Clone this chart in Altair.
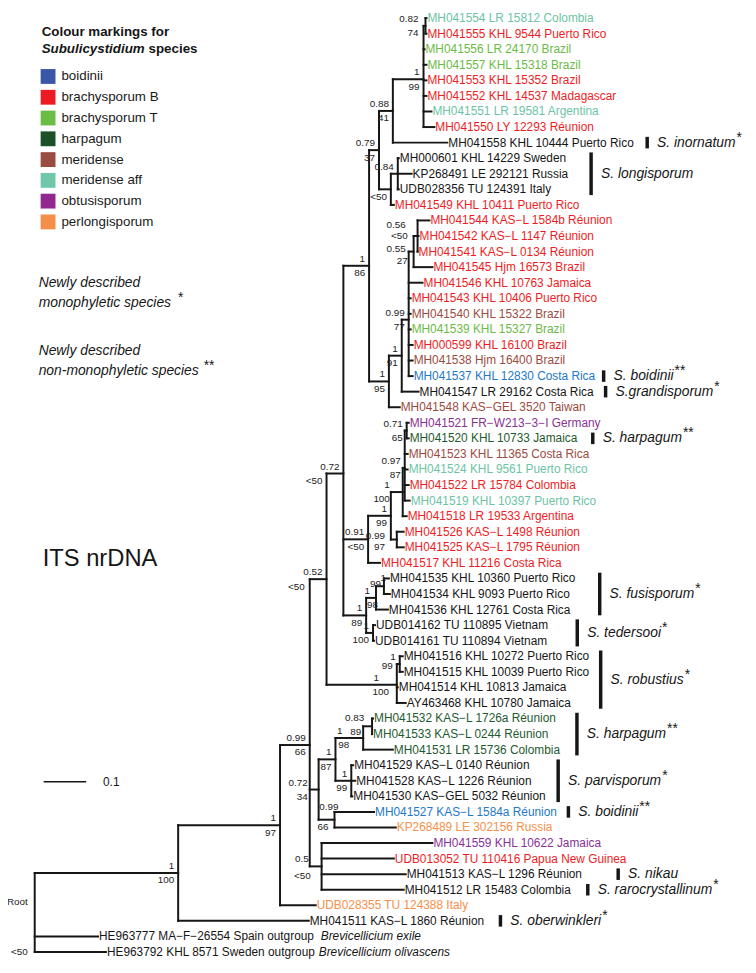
import altair as alt
import pandas as pd

# ======================= DATA =======================
tip_labels = [
    "MH041554 LR 15812 Colombia", "MH041555 KHL 9544 Puerto Rico", "MH041556 LR 24170 Brazil",
    "MH041557 KHL 15318 Brazil", "MH041553 KHL 15352 Brazil", "MH041552 KHL 14537 Madagascar",
    "MH041551 LR 19581 Argentina", "MH041550 LY 12293 Réunion", "MH041558 KHL 10444 Puerto Rico",
    "MH000601 KHL 14229 Sweden", "KP268491 LE 292121 Russia", "UDB028356 TU 124391 Italy",
    "MH041549 KHL 10411 Puerto Rico", "MH041544 KAS−L 1584b Réunion", "MH041542 KAS−L 1147 Réunion",
    "MH041541 KAS−L 0134 Réunion", "MH041545 Hjm 16573 Brazil", "MH041546 KHL 10763 Jamaica",
    "MH041543 KHL 10406 Puerto Rico", "MH041540 KHL 15322 Brazil", "MH041539 KHL 15327 Brazil",
    "MH000599 KHL 16100 Brazil", "MH041538 Hjm 16400 Brazil", "MH041537 KHL 12830 Costa Rica",
    "MH041547 LR 29162 Costa Rica", "MH041548 KAS−GEL 3520 Taiwan", "MH041521 FR−W213−3−I Germany",
    "MH041520 KHL 10733 Jamaica", "MH041523 KHL 11365 Costa Rica", "MH041524 KHL 9561 Puerto Rico",
    "MH041522 LR 15784 Colombia", "MH041519 KHL 10397 Puerto Rico", "MH041518 LR 19533 Argentina",
    "MH041526 KAS−L 1498 Réunion", "MH041525 KAS−L 1795 Réunion", "MH041517 KHL 11216 Costa Rica",
    "MH041535 KHL 10360 Puerto Rico", "MH041534 KHL 9093 Puerto Rico", "MH041536 KHL 12761 Costa Rica",
    "UDB014162 TU 110895 Vietnam", "UDB014161 TU 110894 Vietnam", "MH041516 KHL 10272 Puerto Rico",
    "MH041515 KHL 10039 Puerto Rico", "MH041514 KHL 10813 Jamaica", "AY463468 KHL 10780 Jamaica",
    "MH041532 KAS−L 1726a Réunion", "MH041533 KAS−L 0244 Réunion", "MH041531 LR 15736 Colombia",
    "MH041529 KAS−L 0140 Réunion", "MH041528 KAS−L 1226 Réunion", "MH041530 KAS−GEL 5032 Réunion",
    "MH041527 KAS−L 1584a Réunion", "KP268489 LE 302156 Russia", "MH041559 KHL 10622 Jamaica",
    "UDB013052 TU 110416 Papua New Guinea", "MH041513 KAS−L 1296 Réunion", "MH041512 LR 15483 Colombia",
    "UDB028355 TU 124388 Italy", "MH041511 KAS−L 1860 Réunion",
    "HE963777 MA−F−26554 Spain  outgroup", "HE963792 KHL 8571 Sweden outgroup",
]
outgroup_tip_index = [59, 60]
outgroup_species = ["Brevicellicium exile", "Brevicellicium olivascens"]

tip_groups = [
    "meridense aff", "brachysporum B", "brachysporum T", "brachysporum T", "brachysporum B",
    "brachysporum B", "meridense aff", "brachysporum B", "none", "none",
    "none", "none", "brachysporum B", "brachysporum B", "brachysporum B",
    "brachysporum B", "brachysporum B", "brachysporum B", "brachysporum B", "meridense",
    "brachysporum T", "brachysporum B", "meridense", "boidinii", "none",
    "meridense", "obtusisporum", "harpagum", "meridense", "meridense aff",
    "brachysporum B", "meridense aff", "brachysporum B", "brachysporum B", "brachysporum B",
    "brachysporum B", "none", "none", "none", "none",
    "none", "none", "none", "none", "none",
    "harpagum", "harpagum", "harpagum", "none", "none",
    "none", "boidinii", "perlongisporum", "obtusisporum", "brachysporum B",
    "none", "none", "perlongisporum", "none", "none",
    "none",
]

# distance from root (substitutions per site)
tip_depth = [
    0.9209, 0.9209, 0.9163, 0.9209, 0.9209, 0.9209, 0.9326, 0.9395, 0.9698, 0.8558,
    0.8860, 0.8558, 0.8442, 0.9279, 0.9023, 0.9000, 0.9349, 0.9116, 0.8837, 0.8837,
    0.8837, 0.8884, 0.8884, 0.8884, 0.9023, 0.8581, 0.8791, 0.8791, 0.8767, 0.8767,
    0.8791, 0.8814, 0.8744, 0.8674, 0.8674, 0.8116, 0.8326, 0.8349, 0.8302, 0.8000,
    0.7977, 0.8651, 0.8651, 0.8535, 0.8721, 0.7953, 0.7930, 0.8419, 0.7488, 0.7535,
    0.7465, 0.7977, 0.8488, 0.9349, 0.8442, 0.8721, 0.8674, 0.6605, 0.6442, 0.1488,
    0.1674,
]

tip_parent = [
    "n19", "n19", "n18", "n18", "n18", "n18", "n18", "n18", "n17", "n21",
    "n21", "n21", "n20", "n26", "n26", "n26", "n25", "n24", "n24", "n24",
    "n24", "n24", "n24", "n24", "n23", "n22", "n32", "n32", "n31", "n31",
    "n31", "n31", "n29", "n30", "n30", "n27", "n36", "n36", "n34", "n35",
    "n35", "n14", "n14", "n13", "n13", "n10", "n10", "n9", "n11", "n11",
    "n11", "n8", "n8", "n6", "n6", "n6", "n6", "n2", "n1", "root",
    "root",
]

node_ids = ["root", "n1", "n2", "n3", "n4", "n5", "n6", "n7", "n8", "n9",
            "n10", "n11", "n12", "n13", "n14", "n15", "n16", "n17", "n18", "n19",
            "n20", "n21", "n22", "n23", "n24", "n25", "n26", "n27", "n28", "n29",
            "n30", "n31", "n32", "n33", "n34", "n35", "n36"]
node_parent = ["", "root", "n1", "n2", "n3", "n3", "n3", "n5", "n5", "n7",
               "n9", "n7", "n4", "n4", "n13", "n12", "n15", "n16", "n17", "n18",
               "n16", "n20", "n15", "n22", "n23", "n24", "n25", "n12", "n27", "n28",
               "n28", "n29", "n31", "n12", "n33", "n33", "n34"]
node_depth = [0.0, 0.3372, 0.5767, 0.6465, 0.6860, 0.6674, 0.6744, 0.7070, 0.7047, 0.7721,
              0.7930, 0.7442, 0.7256, 0.8512, 0.8581, 0.7860, 0.8093, 0.8419, 0.9140, 0.9186,
              0.8372, 0.8535, 0.8326, 0.8628, 0.8791, 0.8907, 0.9000, 0.7837, 0.8372, 0.8651,
              0.8512, 0.8698, 0.8744, 0.7791, 0.8023, 0.7953, 0.8209]
node_pp = ["", "1", "1", "0.99", "0.52", "0.72", "0.5", "1", "0.99", "1",
           "0.83", "1", "0.72", "1", "1", "1", "0.79", "0.88", "1", "0.82",
           "", "0.84", "1", "1", "0.99", "0.55", "0.56", "0.91", "1", "1",
           "0.99", "0.97", "0.71", "1", "1", "1", "1"]
node_bs = ["<50", "100", "97", "66", "<50", "34", "<50", "87", "66", "98",
           "89", "99", "<50", "100", "99", "86", "37", "41", "99", "74",
           "<50", "", "95", "91", "77", "27", "<50", "<50", "99", "100",
           "97", "87", "65", "89", "98", "100", "99"]

legend_groups = ["boidinii", "brachysporum B", "brachysporum T", "harpagum",
                 "meridense", "meridense aff", "obtusisporum", "perlongisporum"]

clade_names = ["S. inornatum", "S. longisporum", "S. boidinii", "S.grandisporum", "S. harpagum",
               "S. fusisporum", "S. tedersooi", "S. robustius", "S. harpagum", "S. parvisporum",
               "S. boidinii", "S. nikau", "S. rarocrystallinum", "S. oberwinkleri"]
clade_marks = ["*", "", "**", "*", "**", "*", "*", "*", "**", "*", "**", "", "*", "*"]
clade_first = [8, 9, 23, 24, 27, 36, 39, 41, 45, 48, 51, 55, 56, 58]
clade_last = [8, 11, 23, 24, 27, 38, 40, 44, 47, 50, 51, 55, 56, 58]

scale_bar_value = 0.1
scale_bar_text = "0.1"
figure_label = "ITS nrDNA"

# ======================= STYLE / LAYOUT =======================
FONT = "Liberation Sans"
INK = "#161616"
text_colors = {
    "boidinii": "#2478c9", "brachysporum B": "#ee1d25", "brachysporum T": "#6bbb45",
    "harpagum": "#1e5a2f", "meridense": "#9c4b41", "meridense aff": "#6cc4a4",
    "obtusisporum": "#8a3196", "perlongisporum": "#f68f4a", "none": INK,
}
legend_colors = ["#3a57a7", "#ed1c24", "#6cbd45", "#1c5028", "#9a4c42", "#70c7a7", "#92278f", "#f68e4b"]

W, H = 748, 965
PXU = 430.0      # pixels per substitution unit
ROOT_PX = 27.0
ROW_PX = 15.733
TOP_PX = 5.0
X_SCALE = alt.Scale(domain=[-ROOT_PX / PXU, (W - ROOT_PX) / PXU], nice=False, zero=False)
Y_SCALE = alt.Scale(domain=[-TOP_PX / ROW_PX, (H - TOP_PX) / ROW_PX], nice=False, zero=False, reverse=True)

# support-label placement tweaks (px): node -> (dx_top, dy_top, dx_bottom, dy_bottom)
LABEL_NUDGE = {
    "n36": (6, -1, 1, -9.5), "n34": (-2, 0, 6, 0), "n14": (0, 0, -3, -5.5), "n13": (-14, 0, -4, 0),
    "n26": (-8, -4, -6, -7), "n25": (-4, 4, -2, 2.5), "n10": (-4, -1, -7, -1.5), "n9": (-17, 0, -10, 0),
    "n5": (-7, 0, -7, 0), "n6": (-9, 0, -7, 2), "n8": (8, -6, -2, 0), "n4": (0, 0, -18, 0),
    "n12": (0, 0, -17, 0), "n29": (-9, 0, -9, 0), "n30": (-8, 3, -8, 0), "n19": (-3, 0, -3, 0),
}
# gap (px) between the longest tip label of a clade and its bar
CLADE_GAP = [14, 24, 9, 13, 16, 25, 29, 12, 18, 13, 12, 37, 18, 16]

# Arial / Liberation Sans advance widths (per 1000 em)
_AW = {' ': 278, '.': 278, '−': 584, '-': 333, '*': 389, 'é': 556,
       'A': 667, 'B': 667, 'C': 722, 'D': 722, 'E': 667, 'F': 611, 'G': 778, 'H': 722, 'I': 278,
       'J': 500, 'K': 667, 'L': 556, 'M': 833, 'N': 722, 'O': 778, 'P': 667, 'Q': 778, 'R': 722,
       'S': 667, 'T': 611, 'U': 722, 'V': 667, 'W': 944, 'X': 667, 'Y': 667, 'Z': 611,
       'a': 556, 'b': 556, 'c': 500, 'd': 556, 'e': 556, 'f': 278, 'g': 556, 'h': 556, 'i': 222,
       'j': 222, 'k': 500, 'l': 222, 'm': 833, 'n': 556, 'o': 556, 'p': 556, 'q': 556, 'r': 333,
       's': 500, 't': 278, 'u': 556, 'v': 500, 'w': 722, 'x': 500, 'y': 500, 'z': 500}
_BW = {'S': 667, 'u': 611, 'b': 611, 'l': 278, 'i': 278, 'c': 556, 'y': 556, 's': 556,
       't': 333, 'd': 611, 'm': 889, ' ': 278}


def text_px(s, size, bold=False):
    tab = _BW if bold else _AW
    return sum(tab.get(c, 556) for c in s) * size / 1000.0


# ======================= TREE LAYOUT =======================
children = {n: [] for n in node_ids}
for i, p in enumerate(tip_parent):
    children[p].append(("tip", i))
for n, p in zip(node_ids, node_parent):
    if p:
        children[p].append(("node", n))
ndepth = dict(zip(node_ids, node_depth))
ny = {}


def y_of(kind, key):
    if kind == "tip":
        return float(key)
    if key not in ny:
        ys = [y_of(k, c) for k, c in children[key]]
        ny[key] = sum(ys) / len(ys)
    return ny[key]


for n in node_ids:
    y_of("node", n)

seg = []
for i, p in enumerate(tip_parent):
    seg.append(dict(x=ndepth[p], x2=tip_depth[i], y=i, y2=i))
for n, p in zip(node_ids, node_parent):
    if p:
        seg.append(dict(x=ndepth[p], x2=ndepth[n], y=ny[n], y2=ny[n]))
    ys = [y_of(k, c) for k, c in children[n]]
    seg.append(dict(x=ndepth[n], x2=ndepth[n], y=min(ys), y2=max(ys)))
seg_df = pd.DataFrame(seg)

tips_df = pd.DataFrame({"label": tip_labels, "group": tip_groups, "x": tip_depth,
                        "y": list(range(len(tip_labels)))})
og_df = pd.DataFrame({
    "label": outgroup_species,
    "x": [tip_depth[i] + text_px(tip_labels[i] + " ", 12) / PXU for i in outgroup_tip_index],
    "y": outgroup_tip_index,
})

top_rows, bot_rows = [], []
for n, d, pp, bs in zip(node_ids, node_depth, node_pp, node_bs):
    if n == "root":
        continue
    dxt, dyt, dxb, dyb = LABEL_NUDGE.get(n, (0, 0, 0, 0))
    if pp:
        top_rows.append(dict(t=pp, x=d + dxt / PXU, y=ny[n] + dyt / ROW_PX))
    if bs:
        bot_rows.append(dict(t=bs, x=d + dxb / PXU, y=ny[n] + dyb / ROW_PX))
top_df = pd.DataFrame(top_rows)
bot_df = pd.DataFrame(bot_rows)

root_first_child = ny["n1"]
root_df = pd.DataFrame({"t": ["Root", node_bs[0]], "x": [0.0, 0.0],
                        "y": [(root_first_child + outgroup_tip_index[0]) / 2.0 - 3 / ROW_PX,
                              float(outgroup_tip_index[-1])]})

rows = []
for name, mark, a, b, gap in zip(clade_names, clade_marks, clade_first, clade_last, CLADE_GAP):
    end = max(tip_depth[i] + text_px(tip_labels[i], 12) / PXU for i in range(a, b + 1))
    bx = end + gap / PXU
    nx = bx + 10 / PXU
    sx = nx + (text_px(name, 14) + 1) / PXU
    rows.append(dict(name=name, mark=mark, bx=bx, nx=nx, sx=sx, y0=a - 0.37, y1=b + 0.37, ym=(a + b) / 2.0))
clade_df = pd.DataFrame(rows)
star_df = clade_df[clade_df["mark"] != ""]

sb_df = pd.DataFrame({"x": [0.021], "x2": [0.021 + scale_bar_value], "t": [scale_bar_text]})

# ======================= CHART =======================
X = lambda f: alt.X(f, scale=X_SCALE, axis=None)
Y = lambda f: alt.Y(f, scale=Y_SCALE, axis=None)

branches = alt.Chart(seg_df).mark_rule(color=INK, strokeWidth=2, strokeCap="square").encode(
    x=X("x:Q"), x2="x2:Q", y=Y("y:Q"), y2="y2:Q")

tip_text = alt.Chart(tips_df).mark_text(align="left", baseline="middle", dx=1, font=FONT, fontSize=12).encode(
    x=X("x:Q"), y=Y("y:Q"), text="label:N",
    color=alt.Color("group:N", scale=alt.Scale(domain=list(text_colors.keys()),
                                               range=list(text_colors.values())), legend=None))

og_text = alt.Chart(og_df).mark_text(align="left", baseline="middle", dx=1, font=FONT, fontSize=12,
                                     fontStyle="italic", color=INK).encode(
    x=X("x:Q"), y=Y("y:Q"), text="label:N")

top_text = alt.Chart(top_df).mark_text(align="right", baseline="middle", dx=-4, dy=-7, font=FONT,
                                       fontSize=10, color="#222222").encode(
    x=X("x:Q"), y=Y("y:Q"), text="t:N")
bot_text = alt.Chart(bot_df).mark_text(align="right", baseline="middle", dx=-4, dy=7.5, font=FONT,
                                       fontSize=10, color="#222222").encode(
    x=X("x:Q"), y=Y("y:Q"), text="t:N")

root_text = alt.Chart(root_df).mark_text(align="right", baseline="middle", dx=-7, font=FONT,
                                         fontSize=10, color="#222222").encode(
    x=X("x:Q"), y=Y("y:Q"), text="t:N")

clade_bars = alt.Chart(clade_df).mark_rule(color=INK, strokeWidth=3.5).encode(
    x=X("bx:Q"), y=Y("y0:Q"), y2="y1:Q")
clade_names_l = alt.Chart(clade_df).mark_text(align="left", baseline="middle", font=FONT, fontSize=14,
                                              fontStyle="italic", color=INK).encode(
    x=X("nx:Q"), y=Y("ym:Q"), text="name:N")
clade_stars = alt.Chart(star_df).mark_text(align="left", baseline="middle", dy=-5, font=FONT, fontSize=14,
                                           color=INK).encode(
    x=X("sx:Q"), y=Y("ym:Q"), text="mark:N")

sb_rule = alt.Chart(sb_df).mark_rule(color=INK, strokeWidth=1.5).encode(
    x=X("x:Q"), x2="x2:Q", y=alt.value(777))
sb_text = alt.Chart(sb_df).mark_text(align="left", baseline="middle", dx=17, font=FONT, fontSize=12,
                                     color=INK).encode(
    x=X("x2:Q"), y=alt.value(777), text="t:N")


def note(text, px, py, **style):
    base = dict(align="left", baseline="middle", font=FONT, color=INK)
    base.update(style)
    return alt.Chart(pd.DataFrame({"t": [text]})).mark_text(**base).encode(
        x=alt.value(px), y=alt.value(py), text="t:N")


t1 = "Colour markings for"
t2a, t2b = "Subulicystidium", "species"
n1a, n1b = "Newly described", "monophyletic species"
n2a, n2b = "Newly described", "non-monophyletic species"
notes = [
    note(t1, 34, 19, fontSize=13.5, fontWeight="bold"),
    note(t2a, 34, 36, fontSize=13.5, fontWeight="bold", fontStyle="italic"),
    note(t2b, 34 + text_px(t2a + " ", 13.5, bold=True), 36, fontSize=13.5, fontWeight="bold"),
    note(n1a, 31, 273, fontSize=14, fontStyle="italic"),
    note(n1b, 31, 293, fontSize=14, fontStyle="italic"),
    note("*", 31 + text_px(n1b, 14) + 7, 288, fontSize=14),
    note(n2a, 31, 342, fontSize=14, fontStyle="italic"),
    note(n2b, 31, 362, fontSize=14, fontStyle="italic"),
    note("**", 31 + text_px(n2b, 14) + 5, 357, fontSize=14),
    note(figure_label, 35, 552, fontSize=24),
]

legend_layer = alt.Chart(pd.DataFrame({"group": legend_groups})).mark_square(size=0, opacity=0).encode(
    x=alt.value(0), y=alt.value(0),
    color=alt.Color("group:N", scale=alt.Scale(domain=legend_groups, range=legend_colors),
                    legend=alt.Legend(orient="none", legendX=33, legendY=56.5, direction="vertical",
                                      title=None, symbolType="square", symbolSize=225,
                                      symbolStrokeWidth=0, symbolOpacity=1, labelFont=FONT,
                                      labelFontSize=13.5, labelColor="#1a1a1a", labelOffset=6,
                                      rowPadding=6, padding=0, labelLimit=300)))

chart = alt.layer(
    branches, tip_text, og_text, top_text, bot_text, root_text,
    clade_bars, clade_names_l, clade_stars, sb_rule, sb_text, *notes, legend_layer
).resolve_scale(color="independent").properties(
    width=W, height=H, padding=0, autosize=alt.AutoSizeParams(type="none")
).configure_view(strokeWidth=0)

chart.save("out.html", embed_options={"renderer": "svg", "actions": False})
